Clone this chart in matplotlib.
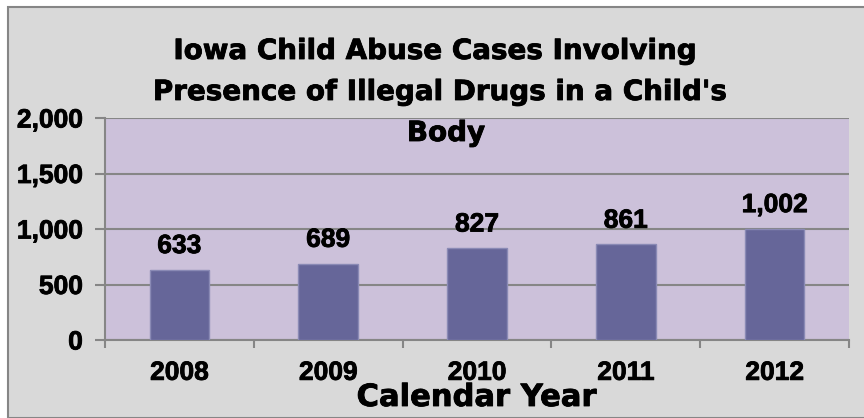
import numpy as np
import matplotlib.pyplot as plt
import matplotlib.patheffects as pe
from matplotlib.patches import Rectangle

# Data kasus per tahun
years = ['2008', '2009', '2010', '2011', '2012']
cases = [633, 689, 827, 861, 1002]
y_ticks = [0, 500, 1000, 1500, 2000]
title_lines = ["Iowa Child Abuse Cases Involving",
               "Presence of Illegal Drugs in a Child's",
               "Body"]

W, H = 864, 418
fig = plt.figure(figsize=(W / 100, H / 100), dpi=100)
fig.patch.set_facecolor('white')

heavy = [pe.withStroke(linewidth=0.6, foreground='black')]
lab_font = dict(fontsize=19, fontweight='bold', family='Liberation Sans')
big_font = dict(fontweight='bold', family='DejaVu Sans')

# latar abu-abu dengan bingkai
bg = Rectangle((8 / W, 0), 1.2, (H - 7) / H, transform=fig.transFigure,
               facecolor='#D9D9D9', edgecolor='#868686', linewidth=1.5, zorder=-10)
fig.patches.append(bg)

ax = fig.add_axes([105 / W, (H - 340) / H, (849 - 105) / W, (340 - 118) / H])
ax.set_facecolor('#CCC1DA')

x = np.arange(len(years))
ax.bar(x, cases, width=0.4, color='#666699', edgecolor='#8A8AB5', linewidth=1, zorder=3)

ax.set_xlim(-0.5, len(years) - 0.5)
ax.set_ylim(0, 2000)
ax.set_yticks(y_ticks)
ax.set_yticklabels([f'{v:,}' for v in y_ticks], path_effects=heavy, **lab_font)
ax.yaxis.grid(True, color='#868686', linewidth=1.5, zorder=1)
ax.set_axisbelow(True)

ax.set_xticks(x)
ax.set_xticklabels(years, path_effects=heavy, **lab_font)
ax.set_xticks(np.arange(-0.5, len(years), 1), minor=True)
ax.tick_params(axis='x', which='major', length=0, pad=15)
ax.tick_params(axis='x', which='minor', length=6, color='#868686', width=1.5)
ax.tick_params(axis='y', length=7, color='#868686', width=1.5, pad=9)

for s in ['top', 'right']:
    ax.spines[s].set_visible(False)
for s in ['left', 'bottom']:
    ax.spines[s].set_color('#868686')
    ax.spines[s].set_linewidth(1.5)

for xi, v in zip(x, cases):
    ax.annotate(f'{v:,}', (xi, v), xytext=(0, 12), textcoords='offset points',
                ha='center', va='baseline', path_effects=heavy, **lab_font)

# judul tiga baris
for line, cx, base in zip(title_lines, [435, 440, 446], [59, 100, 141]):
    fig.text(cx / W, 1 - base / H, line, ha='center', va='baseline', fontsize=20,
             zorder=5, path_effects=heavy, **big_font)
fig.text(476 / W, 1 - 406 / H, 'Calendar Year', ha='center', va='baseline',
         fontsize=22, path_effects=heavy, **big_font)

plt.savefig('out.png', dpi=100)
